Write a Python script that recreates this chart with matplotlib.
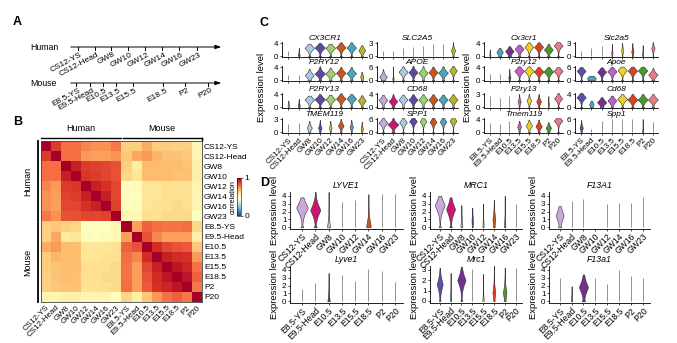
import numpy as np
import matplotlib
matplotlib.use('Agg')
import matplotlib.pyplot as plt

plt.rcParams['font.family'] = 'Liberation Sans'

W, H = 677, 343

human_stages = ['CS12-YS', 'CS12-Head', 'GW8', 'GW10', 'GW12', 'GW14', 'GW16', 'GW23']
mouse_stages = ['E8.5-YS', 'E9.5-Head', 'E10.5', 'E13.5', 'E15.5', 'E18.5', 'P2', 'P20']
all_stages = human_stages + mouse_stages

# correlation between stages
corr = [
    [1.00, 0.88, 0.80, 0.80, 0.76, 0.74, 0.74, 0.78, 0.63, 0.63, 0.70, 0.64, 0.64, 0.63, 0.63, 0.53],
    [0.88, 1.00, 0.80, 0.80, 0.73, 0.72, 0.72, 0.74, 0.65, 0.71, 0.73, 0.68, 0.66, 0.66, 0.65, 0.53],
    [0.80, 0.80, 1.00, 0.93, 0.88, 0.87, 0.86, 0.84, 0.63, 0.56, 0.67, 0.67, 0.67, 0.67, 0.66, 0.55],
    [0.80, 0.80, 0.93, 1.00, 0.89, 0.88, 0.86, 0.84, 0.62, 0.58, 0.67, 0.67, 0.67, 0.66, 0.66, 0.55],
    [0.76, 0.73, 0.88, 0.89, 1.00, 0.93, 0.90, 0.86, 0.50, 0.51, 0.58, 0.58, 0.60, 0.60, 0.59, 0.53],
    [0.74, 0.72, 0.87, 0.88, 0.93, 1.00, 0.93, 0.86, 0.50, 0.50, 0.58, 0.58, 0.60, 0.60, 0.59, 0.53],
    [0.74, 0.72, 0.86, 0.86, 0.90, 0.93, 1.00, 0.87, 0.50, 0.51, 0.58, 0.59, 0.60, 0.61, 0.60, 0.53],
    [0.78, 0.74, 0.84, 0.84, 0.86, 0.86, 0.87, 1.00, 0.52, 0.52, 0.60, 0.60, 0.61, 0.61, 0.61, 0.50],
    [0.63, 0.65, 0.63, 0.62, 0.50, 0.50, 0.50, 0.52, 1.00, 0.72, 0.82, 0.80, 0.79, 0.79, 0.80, 0.62],
    [0.63, 0.71, 0.56, 0.58, 0.51, 0.50, 0.51, 0.52, 0.72, 1.00, 0.84, 0.76, 0.72, 0.72, 0.72, 0.55],
    [0.70, 0.73, 0.67, 0.67, 0.58, 0.58, 0.58, 0.60, 0.82, 0.84, 1.00, 0.91, 0.86, 0.84, 0.83, 0.65],
    [0.64, 0.68, 0.67, 0.67, 0.58, 0.58, 0.59, 0.60, 0.80, 0.76, 0.91, 1.00, 0.93, 0.91, 0.90, 0.73],
    [0.64, 0.66, 0.67, 0.67, 0.60, 0.60, 0.60, 0.61, 0.79, 0.72, 0.86, 0.93, 1.00, 0.95, 0.92, 0.79],
    [0.63, 0.66, 0.67, 0.66, 0.60, 0.60, 0.61, 0.61, 0.79, 0.72, 0.84, 0.91, 0.95, 1.00, 0.95, 0.82],
    [0.63, 0.65, 0.66, 0.66, 0.59, 0.59, 0.60, 0.61, 0.80, 0.72, 0.83, 0.90, 0.92, 0.95, 1.00, 0.78],
    [0.53, 0.53, 0.55, 0.55, 0.53, 0.53, 0.53, 0.50, 0.62, 0.55, 0.65, 0.73, 0.79, 0.82, 0.78, 1.00],
]

# violins: (mode, half width, max) per stage
CX3CR1 = [(0, 0, 1.5), (0.4, 0.07, 2.5), (2.5, 0.42, 3.8), (2.6, 0.45, 4.0), (2.5, 0.42, 3.8), (2.7, 0.42, 4.2), (2.6, 0.42, 4.2), (1.8, 0.3, 3.3)]
SLC2A5 = [(0, 0, 1.2), (0, 0, 1.2), (0, 0, 1.8), (0, 0, 2.0), (0, 0, 2.4), (0, 0, 2.7), (0, 0, 2.8), (1.3, 0.2, 3.2)]
P2RY12 = [(0, 0, 1.5), (0, 0, 1.7), (1.5, 0.4, 3.5), (2.0, 0.45, 4.2), (2.0, 0.42, 3.8), (2.2, 0.42, 4.0), (2.1, 0.42, 4.0), (1.0, 0.14, 2.6)]
APOE = [(1.5, 0.35, 5.0), (0.6, 0.06, 6.2), (3.8, 0.42, 6.3), (3.6, 0.42, 6.5), (3.3, 0.42, 6.5), (3.6, 0.42, 6.2), (3.4, 0.45, 6.3), (4.4, 0.35, 6.5)]
P2RY13 = [(0.5, 0.06, 2.0), (0.5, 0.08, 2.5), (2.3, 0.42, 3.5), (2.4, 0.45, 4.0), (2.4, 0.42, 3.8), (2.6, 0.42, 4.2), (2.6, 0.42, 4.0), (2.0, 0.35, 3.6)]
CD68 = [(2.2, 0.4, 3.8), (1.8, 0.4, 4.0), (2.3, 0.42, 3.8), (2.3, 0.42, 3.9), (2.3, 0.42, 3.9), (2.3, 0.42, 3.9), (2.3, 0.42, 3.8), (2.3, 0.42, 3.9)]
TMEM119 = [(0, 0, 1.8), (0, 0, 2.2), (1.0, 0.22, 2.6), (1.0, 0.15, 2.8), (1.0, 0.12, 2.6), (1.5, 0.25, 3.0), (1.2, 0.15, 2.8), (0.8, 0.1, 2.4)]
SPP1 = [(4.3, 0.42, 6.5), (3.5, 0.5, 6.5), (4.5, 0.35, 6.5), (5.0, 0.35, 6.8), (5.0, 0.3, 6.8), (4.7, 0.32, 6.6), (4.8, 0.3, 6.6), (5.2, 0.32, 6.8)]

Cx3cr1 = [(0.4, 0.05, 2.0), (1.2, 0.3, 2.5), (1.5, 0.4, 3.0), (2.2, 0.42, 3.5), (2.8, 0.42, 4.2), (2.8, 0.42, 4.2), (2.0, 0.42, 3.8), (3.2, 0.42, 4.5)]
Slc2a5 = [(0, 0, 1.2), (0, 0, 1.8), (0, 0, 2.4), (0.7, 0.06, 2.8), (1.3, 0.1, 3.0), (1.0, 0.1, 3.0), (0.4, 0.05, 2.5), (1.8, 0.15, 3.2)]
P2ry12 = [(0, 0, 1.8), (0, 0, 1.8), (0.8, 0.1, 3.5), (2.8, 0.45, 4.2), (2.8, 0.45, 4.2), (2.6, 0.45, 4.0), (2.6, 0.45, 4.0), (2.8, 0.42, 4.0)]
Apoe = [(4.2, 0.4, 6.0), (0.8, 0.4, 2.0), (3.8, 0.4, 5.8), (4.0, 0.42, 6.0), (4.5, 0.42, 6.2), (4.3, 0.42, 6.2), (4.4, 0.42, 6.2), (2.5, 0.42, 5.5)]
P2ry13 = [(0, 0, 2.5), (0, 0, 2.2), (0, 0, 2.5), (1.3, 0.15, 3.0), (1.5, 0.22, 3.0), (1.3, 0.22, 3.0), (0.6, 0.05, 2.5), (2.0, 0.38, 3.3)]
Cd68 = [(3.0, 0.42, 4.5), (0.8, 0.2, 2.0), (1.5, 0.42, 3.0), (2.0, 0.4, 3.5), (2.5, 0.45, 4.0), (2.3, 0.45, 4.0), (2.3, 0.45, 4.0), (2.3, 0.45, 4.0)]
Tmem119 = [(0, 0, 2.8), (0, 0, 2.4), (0, 0, 3.4), (1.7, 0.18, 3.5), (2.0, 0.3, 3.8), (1.8, 0.3, 3.8), (1.3, 0.25, 3.0), (3.5, 0.4, 4.5)]
Spp1 = [(2.0, 0.15, 5.5), (0, 0, 1.5), (0, 0, 5.0), (0, 0, 6.0), (0, 0, 6.0), (0, 0, 6.2), (0.2, 0.05, 6.0), (0, 0, 4.5)]

LYVE1 = [(2.5, 0.4, 3.8), (2.2, 0.35, 4.5), (0.2, 0.1, 4.5), (0, 0, 3.2), (0, 0, 3.5), (0.3, 0.15, 4.2), (0, 0, 4.2), (0, 0, 4.2)]
MRC1 = [(2.8, 0.42, 4.0), (2.3, 0.38, 3.8), (0.3, 0.08, 2.8), (0.8, 0.06, 2.5), (0.3, 0.05, 3.0), (1.0, 0.12, 3.5), (0.3, 0.06, 4.0), (0, 0, 3.0)]
F13A1 = [(1.5, 0.3, 2.7), (0, 0, 3.3), (0, 0, 3.6), (0, 0, 0), (0, 0, 3.0), (0, 0, 3.1), (0, 0, 3.1), (0, 0, 3.8)]
Lyve1 = [(0, 0, 1.5), (0, 0, 2.3), (0.1, 0.08, 3.6), (0, 0, 3.4), (0, 0, 2.6), (0, 0, 4.1), (0, 0, 3.9), (0, 0, 2.5)]
Mrc1 = [(1.6, 0.25, 3.2), (0.2, 0.06, 2.7), (2.0, 0.35, 3.3), (0, 0, 3.1), (0.1, 0.06, 2.6), (0.8, 0.12, 3.5), (0.8, 0.15, 3.2), (0, 0, 3.2)]
F13a1 = [(0, 0, 2.9), (0.1, 0.05, 1.9), (1.8, 0.35, 3.4), (0, 0, 3.0), (0, 0, 2.2), (0, 0, 4.0), (0, 0, 3.2), (0, 0, 2.9)]

human_colors = ['#c9a8dc', '#c8186e', '#a8cce4', '#5a4aa2', '#9bd46a', '#c9571b', '#4aa6bd', '#b9b52a']
mouse_colors = ['#5a50a8', '#45a8c4', '#73308e', '#c25ec8', '#f0d21e', '#e0401e', '#489a2a', '#e57d8c']

fig = plt.figure(figsize=(6.77, 3.43), dpi=100)


def box(x0, y0, x1, y1):
    return fig.add_axes([x0 / W, 1 - y1 / H, (x1 - x0) / W, (y1 - y0) / H])


ov = fig.add_axes([0, 0, 1, 1])
ov.set_xlim(0, W)
ov.set_ylim(H, 0)
ov.axis('off')

for x, y, s in [(13, 22, 'A'), (13, 122, 'B'), (260, 23, 'C'), (260, 183, 'D')]:
    ov.text(x, y, s, fontsize=9, fontweight='bold', ha='left', va='center')

# panel A: timelines
human_x = [78, 95, 111, 128, 145, 162, 179, 197]
mouse_x = [76, 90, 103, 116, 133, 163, 185, 208]
for yl, name, xs, labs in [(47, 'Human', human_x, human_stages), (83, 'Mouse', mouse_x, mouse_stages)]:
    ov.text(30, yl, name, fontsize=6.3, ha='left', va='center')
    ov.annotate('', xy=(224, yl), xytext=(68, yl),
                arrowprops=dict(arrowstyle='-|>,head_length=0.35,head_width=0.12', lw=0.7, color='black'))
    for x, lab in zip(xs, labs):
        ov.plot([x, x], [yl, yl + 3], color='black', lw=0.7)
        ov.text(x + 2, yl + 4, lab, fontsize=6, rotation=28, ha='right', va='top', rotation_mode='anchor')

# panel B: heatmap
axh = box(41, 141, 202, 302)
im = axh.imshow(np.array(corr), cmap='RdYlBu_r', vmin=0, vmax=1, aspect='auto', interpolation='nearest')
axh.yaxis.tick_right()
axh.set_yticks(range(16))
axh.set_yticklabels(all_stages, fontsize=6)
axh.set_xticks(range(16))
axh.set_xticklabels(all_stages, fontsize=5.8, rotation=45, ha='right', rotation_mode='anchor')
axh.tick_params(length=0, pad=1.5)
for sp in axh.spines.values():
    sp.set_linewidth(0.6)
    sp.set_color('#444444')

ov.plot([38, 38], [141, 220.5], color='black', lw=1.3)
ov.plot([38, 38], [222.5, 302], color='black', lw=1.3)
ov.plot([41, 121], [138, 138], color='black', lw=1.0)
ov.plot([122.5, 202], [138, 138], color='black', lw=1.0)
ov.plot([202, 202], [138, 141], color='black', lw=1.0)
ov.text(81, 133, 'Human', fontsize=6.5, ha='center', va='bottom')
ov.text(162, 133, 'Mouse', fontsize=6.5, ha='center', va='bottom')
ov.text(32, 181, 'Human', fontsize=6.5, ha='right', va='center', rotation=90)
ov.text(32, 262, 'Mouse', fontsize=6.5, ha='right', va='center', rotation=90)

cax = box(237, 178, 241, 216)
cb = fig.colorbar(im, cax=cax, ticks=[0, 1])
cb.outline.set_linewidth(0.4)
cax.tick_params(labelsize=6, length=1.5, width=0.4, pad=1)
cax.yaxis.set_label_position('left')
cax.set_ylabel('correlation', fontsize=5.2, labelpad=0.5)


def violins(ax, data, colors, m, labels=None):
    sig = 0.26 * m
    for i, (mode, w, top) in enumerate(data):
        if top <= 0:
            continue
        ax.vlines(i, 0, top, color='#555555', lw=0.45, zorder=1)
        if w <= 0:
            continue
        y = np.linspace(0, top, 150)
        d = np.exp(-(np.abs(y - mode) / sig) ** 1.3) + 0.2 * np.exp(-(y / (0.05 * m)) ** 2)
        stats = [dict(coords=y, vals=d, mean=mode, median=mode, min=0.0, max=top)]
        parts = ax.violin(stats, positions=[i], widths=[2.15 * w], showmeans=False,
                          showextrema=False, showmedians=False)
        for b in parts['bodies']:
            b.set_facecolor(colors[i])
            b.set_edgecolor('#333333')
            b.set_linewidth(0.4)
            b.set_alpha(1)
            b.set_zorder(2)
    ax.set_ylim(-0.07 * m, 1.08 * m)
    ax.set_yticks([0, m])
    ax.set_xticks(range(8))
    if labels is None:
        ax.set_xticklabels([])
    else:
        ax.set_xticklabels(labels, rotation=45, ha='right', rotation_mode='anchor', fontsize=5.8)
    for s in ['top', 'right']:
        ax.spines[s].set_visible(False)
    for s in ['left', 'bottom']:
        ax.spines[s].set_linewidth(0.6)
    ax.tick_params(labelsize=5.8, length=1.5, width=0.5, pad=1)


# panel C
rows_zero = [56, 80, 107, 132]
c_cols = [
    (282, 367, [CX3CR1, P2RY12, P2RY13, TMEM119], ['CX3CR1', 'P2RY12', 'P2RY13', 'TMEM119'], [4, 4, 4, 3], human_colors, human_stages),
    (377, 458, [SLC2A5, APOE, CD68, SPP1], ['SLC2A5', 'APOE', 'CD68', 'SPP1'], [3, 6, 4, 6], human_colors, human_stages),
    (484, 563, [Cx3cr1, P2ry12, P2ry13, Tmem119], ['Cx3cr1', 'P2ry12', 'P2ry13', 'Tmem119'], [4, 4, 3, 4], mouse_colors, mouse_stages),
    (575, 658, [Slc2a5, Apoe, Cd68, Spp1], ['Slc2a5', 'Apoe', 'Cd68', 'Spp1'], [3, 6, 4, 6], mouse_colors, mouse_stages),
]
for x0, x1, datas, names, ms, cols, labs in c_cols:
    for r, (data, name, m) in enumerate(zip(datas, names, ms)):
        z = rows_zero[r]
        ax = box(x0, z - 14, x1, z + 1)
        violins(ax, data, cols, m, labs if r == 3 else None)
        ax.set_xlim(-0.6, 7.5)
        ax.set_title(name, fontsize=6, style='italic', pad=0.5)
ov.text(262, 87, 'Expression level', fontsize=6.8, rotation=90, ha='center', va='center')
ov.text(467, 87, 'Expression level', fontsize=6.8, rotation=90, ha='center', va='center')

# panel D
d_rows = [
    (227, [LYVE1, MRC1, F13A1], ['LYVE1', 'MRC1', 'F13A1'], [4, 4, 4], human_colors, human_stages),
    (301, [Lyve1, Mrc1, F13a1], ['Lyve1', 'Mrc1', 'F13a1'], [4, 3, 4], mouse_colors, mouse_stages),
]
d_x = [(290, 403), (430, 522), (549, 650)]
for z, datas, names, ms, cols, labs in d_rows:
    for (x0, x1), data, name, m in zip(d_x, datas, names, ms):
        ax = box(x0, z - 35, x1, z + 1.5)
        violins(ax, data, cols, m, labs)
        ax.set_yticks(range(m + 1))
        ax.set_ylim(-0.15, m * 1.12)
        ax.set_xlim(-0.9, 7.6)
        ax.tick_params(axis='x', labelsize=6.2)
        ax.set_title(name, fontsize=6.3, style='italic', pad=3)
        ax.set_ylabel('Expression level', fontsize=6.8, labelpad=2)

fig.savefig('out.png', dpi=100)
